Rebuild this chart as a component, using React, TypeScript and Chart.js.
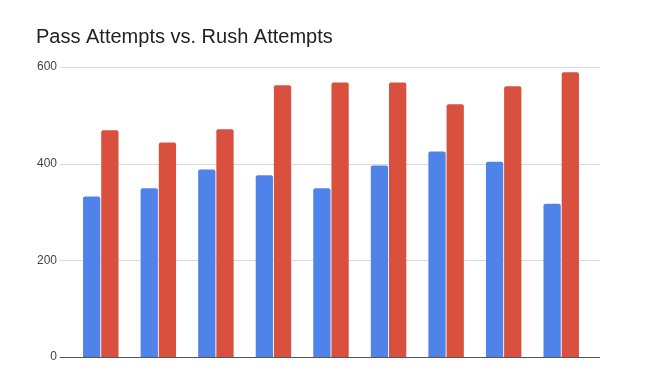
import React, { useEffect, useRef } from "react";
import { Chart, registerables } from "chart.js";

Chart.register(...registerables);

const categories = ["1", "2", "3", "4", "5", "6", "7", "8", "9"];
const passAttempts = [332, 349, 388, 376, 349, 396, 425, 404, 317];
const rushAttempts = [469, 444, 471, 562, 568, 568, 523, 560, 589];
const yTicks = [0, 200, 400, 600];

const gridPlugin = {
  id: "extGrid",
  beforeDatasetsDraw(chart: any) {
    const { ctx, chartArea, scales } = chart;
    const y = scales.y;
    ctx.save();
    ctx.lineWidth = 1;
    ctx.strokeStyle = "#d9d9d9";
    yTicks.forEach((v) => {
      if (v === 0) return;
      const py = Math.round(y.getPixelForValue(v)) + 0.5;
      ctx.beginPath();
      ctx.moveTo(chartArea.left - 12, py);
      ctx.lineTo(chartArea.right + 10, py);
      ctx.stroke();
    });
    ctx.restore();
  },
  afterDatasetsDraw(chart: any) {
    const { ctx, chartArea, scales } = chart;
    const y = scales.y;
    ctx.save();
    ctx.lineWidth = 1.2;
    ctx.strokeStyle = "#555555";
    const py = Math.round(y.getPixelForValue(0)) + 0.5;
    ctx.beginPath();
    ctx.moveTo(chartArea.left - 12, py);
    ctx.lineTo(chartArea.right + 10, py);
    ctx.stroke();
    ctx.restore();
  },
};

export default function App() {
  const ref = useRef<HTMLCanvasElement>(null);
  useEffect(() => {
    if (!ref.current) return;
    const chart = new Chart(ref.current, {
      type: "bar",
      data: {
        labels: categories,
        datasets: [
          {
            label: "Pass Attempts",
            data: passAttempts,
            backgroundColor: "#5083ea",
            borderRadius: 2,
            borderSkipped: "bottom",
          },
          {
            label: "Rush Attempts",
            data: rushAttempts,
            backgroundColor: "#d9503f",
            borderRadius: 2,
            borderSkipped: "bottom",
          },
        ],
      },
      options: {
        responsive: false,
        animation: false,
        datasets: {
          bar: { categoryPercentage: 0.632, barPercentage: 0.95 },
        },
        layout: { padding: { left: 36, right: 64, top: 0, bottom: 16 } },
        plugins: {
          legend: { display: false },
          tooltip: { enabled: false },
          title: {
            display: true,
            text: "Pass Attempts vs. Rush Attempts",
            align: "start",
            color: "#222222",
            font: { family: "'Liberation Sans', Arial, sans-serif", size: 20, weight: "normal" },
            padding: { top: 25, bottom: 18 },
          },
        },
        scales: {
          x: {
            display: false,
            afterFit: (s: any) => {
              s.height = 0;
            },
          },
          y: {
            min: 0,
            max: 600,
            afterFit: (s: any) => {
              s.width = 36;
              s.paddingTop = 0;
              s.paddingBottom = 0;
            },
            afterBuildTicks: (s: any) => {
              s.ticks = yTicks.map((v) => ({ value: v }));
            },
            grid: { display: false, drawTicks: false },
            border: { display: false },
            ticks: {
              padding: 15,
              color: "#444444",
              font: { family: "'Liberation Sans', Arial, sans-serif", size: 12 },
            },
          },
        },
      },
      plugins: [gridPlugin],
    });
    return () => chart.destroy();
  }, []);
  return (
    <div style={{ position: "absolute", left: 0, top: 0, width: 654, height: 373, background: "#fff" }}>
      <canvas ref={ref} width={654} height={373} style={{ display: "block" }} />
    </div>
  );
}
